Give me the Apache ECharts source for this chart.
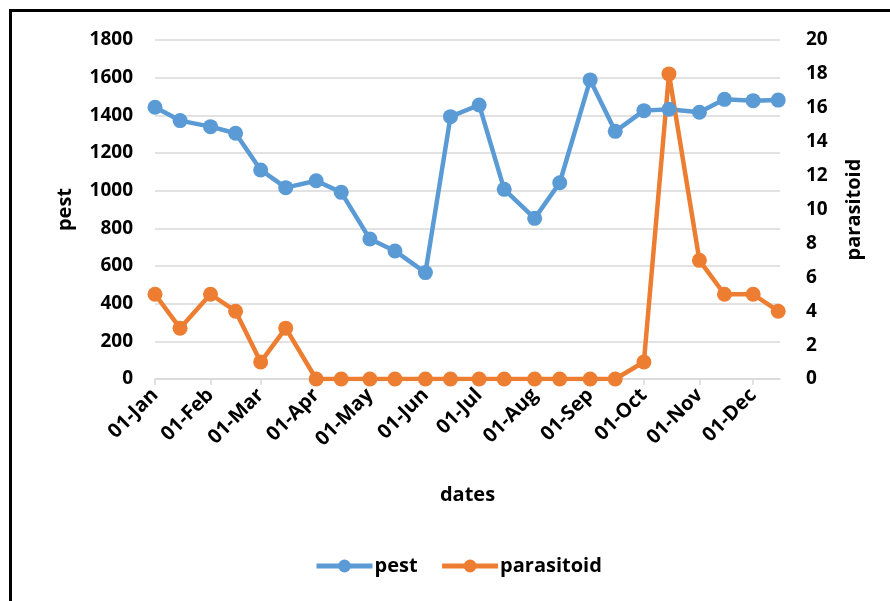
<!DOCTYPE html>
<html>
<head>
<meta charset="utf-8">
<script src="https://cdn.jsdelivr.net/npm/echarts@6/dist/echarts.min.js"></script>
<style>
html,body{margin:0;padding:0;background:#fff;}
#chart{width:890px;height:601px;}
</style>
</head>
<body>
<div id="chart"></div>
<script>
const dates = ['2021-01-01','2021-01-15','2021-02-01','2021-02-15','2021-03-01','2021-03-15',
  '2021-04-01','2021-04-15','2021-05-01','2021-05-15','2021-06-01','2021-06-15',
  '2021-07-01','2021-07-15','2021-08-01','2021-08-15','2021-09-01','2021-09-15',
  '2021-10-01','2021-10-15','2021-11-01','2021-11-15','2021-12-01','2021-12-15'];
const pest = [1443,1372,1340,1305,1110,1016,1053,991,743,680,565,1393,
  1455,1007,853,1042,1588,1315,1425,1432,1416,1485,1478,1481];
const parasitoid = [5,3,5,4,1,3,0,0,0,0,0,0,0,0,0,0,0,0,1,18,7,5,5,4];
const leftTicks = [0,200,400,600,800,1000,1200,1400,1600,1800];
const rightTicks = [0,2,4,6,8,10,12,14,16,18,20];
const months = ['Jan','Feb','Mar','Apr','May','Jun','Jul','Aug','Sep','Oct','Nov','Dec'];

const FONT = 'Open Sans';
const chart = echarts.init(document.getElementById('chart'));
const labelStyle = {fontFamily: FONT, fontWeight: 'bold', fontSize: 19, color: '#000'};
chart.setOption({
  animation: false,
  backgroundColor: '#fff',
  graphic: [{
    type: 'rect', shape: {x: 10.5, y: 10.5, width: 1000, height: 1000},
    style: {fill: 'none', stroke: '#000', lineWidth: 3}, silent: true
  }],
  grid: {left: 155, right: 110, top: 40, bottom: 222, containLabel: false},
  legend: {
    bottom: 20, left: 309, itemWidth: 56, itemHeight: 16, itemGap: 22,
    lineStyle: {width: 5},
    textStyle: {fontFamily: FONT, fontWeight: 'bold', fontSize: 20, color: '#000', padding: [0,0,0,-3]},
    data: ['pest','parasitoid']
  },
  xAxis: {
    type: 'time',
    min: '2021-01-01', max: '2021-12-16',
    splitNumber: 12,
    minInterval: 28*86400000, maxInterval: 31*86400000,
    name: 'dates', nameLocation: 'middle', nameGap: 106,
    nameTextStyle: {fontFamily: FONT, fontWeight: 'bold', fontSize: 20, color: '#000'},
    axisLine: {show: true, lineStyle: {color: '#d9d9d9', width: 1.5}},
    axisTick: {show: true, length: 6, lineStyle: {color: '#d9d9d9', width: 1.5}},
    splitLine: {show: false},
    axisLabel: Object.assign({}, labelStyle, {
      fontSize: 20, rotate: 45, margin: 13, showMaxLabel: false, hideOverlap: false,
      formatter: function (v) { const d = new Date(v); return String(d.getDate()).padStart(2,'0') + '-' + months[d.getMonth()]; }
    })
  },
  yAxis: [{
    type: 'value', min: leftTicks[0], max: leftTicks[leftTicks.length-1], interval: 200,
    name: 'pest', nameLocation: 'middle', nameGap: 80,
    nameTextStyle: {fontFamily: FONT, fontWeight: 'bold', fontSize: 20, color: '#000'},
    axisLine: {show: false}, axisTick: {show: false},
    splitLine: {lineStyle: {color: '#d9d9d9', width: 1.5}},
    axisLabel: Object.assign({}, labelStyle, {margin: 22, formatter: v => String(v)})
  }, {
    type: 'value', min: rightTicks[0], max: rightTicks[rightTicks.length-1], interval: 2,
    position: 'right',
    name: 'parasitoid', nameLocation: 'middle', nameGap: 64,
    nameTextStyle: {fontFamily: FONT, fontWeight: 'bold', fontSize: 20, color: '#000'},
    axisLine: {show: false}, axisTick: {show: false},
    splitLine: {show: false},
    axisLabel: Object.assign({}, labelStyle, {margin: 26, formatter: v => String(v)})
  }],
  series: [{
    name: 'pest', type: 'line', yAxisIndex: 0,
    data: dates.map((d,i) => [d, pest[i]]),
    symbol: 'circle', symbolSize: 15,
    itemStyle: {color: '#5B9BD5'}, lineStyle: {color: '#5B9BD5', width: 4.5}
  }, {
    name: 'parasitoid', type: 'line', yAxisIndex: 1,
    data: dates.map((d,i) => [d, parasitoid[i]]),
    symbol: 'circle', symbolSize: 15,
    itemStyle: {color: '#ED7D31'}, lineStyle: {color: '#ED7D31', width: 4.5}
  }]
});
</script>
</body>
</html>
